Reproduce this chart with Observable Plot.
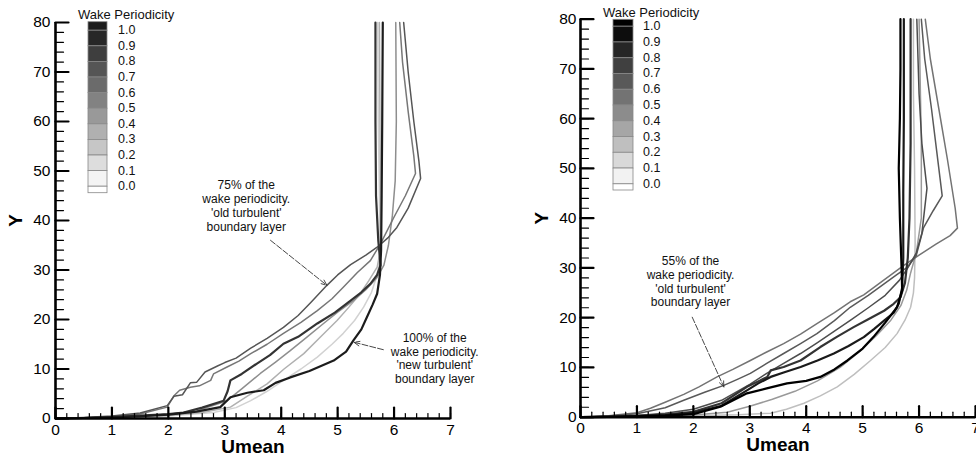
<!DOCTYPE html>
<html><head><meta charset="utf-8">
<script src="https://cdn.jsdelivr.net/npm/d3@7"></script>
<script src="https://cdn.jsdelivr.net/npm/@observablehq/plot@0.6"></script>
<style>
body{margin:0;background:#fff;font-family:"Liberation Sans",Arial,Helvetica,sans-serif;}
#wrap{position:relative;width:976px;height:458px;overflow:hidden;background:#fff;}
.panel{position:absolute;top:0;width:488px;height:458px;}
.panel svg{position:absolute;left:0;top:0;}
</style></head><body><div id="wrap"></div>
<script>
// ---------- tick values ----------
const xTickValues = [0, 1, 2, 3, 4, 5, 6, 7];
const yTickValues = [0, 10, 20, 30, 40, 50, 60, 70, 80];
const legendLevels = [1.0, 0.9, 0.8, 0.7, 0.6, 0.5, 0.4, 0.3, 0.2, 0.1, 0.0];
const legendLabels = ["1.0","0.9","0.8","0.7","0.6","0.5","0.4","0.3","0.2","0.1","0.0"];

// ---------- left panel profiles [Umean, Y] ----------
const leftP100 = [[0,0],[0.5,0.1],[1,0.25],[1.5,0.45],[2,0.8],[2.5,1.4],[2.92,2.3],[3.1,4.3],[3.4,5.2],[3.69,5.7],[3.9,7.2],[4.16,8.3],[4.5,9.6],[4.93,11.7],[5.15,13.5],[5.28,15.8],[5.42,18],[5.52,20.5],[5.62,23],[5.7,25.2],[5.75,29],[5.77,34],[5.78,45],[5.79,60],[5.8,80]];
const leftP90 = [[0,0],[0.5,0.1],[1,0.3],[1.5,0.6],[2,0.9],[2.27,1.2],[2.6,2.2],[2.98,3.6],[3.05,5.5],[3.1,7.7],[3.3,9],[3.57,11.1],[3.8,12.8],[4.04,15.1],[4.3,16.5],[4.64,19.2],[4.95,21.4],[5.23,23.8],[5.42,25.5],[5.58,27.2],[5.7,29],[5.76,31],[5.72,36],[5.68,45],[5.67,60],[5.67,80]];
const leftP75 = [[0,0],[0.5,0.2],[1,0.5],[1.5,1.1],[1.98,2.6],[2.1,4.5],[2.25,4.8],[2.39,7.2],[2.5,7.3],[2.65,9.4],[2.87,10.6],[3.0,11.3],[3.2,12.2],[3.46,14.2],[3.75,16.2],[4.04,18.4],[4.3,20.8],[4.52,23.4],[4.81,26.9],[5.0,29],[5.23,31.1],[5.5,33],[5.7,34.6],[5.9,36.6],[6.05,38.6],[6.25,42.5],[6.47,48.5],[6.44,52],[6.35,60],[6.25,70],[6.17,80]];
const leftP60 = [[0,0],[0.5,0.15],[1,0.4],[1.5,0.9],[1.98,2.3],[2.1,4.6],[2.2,5.7],[2.39,6.3],[2.55,6.6],[2.75,7.7],[2.8,9.0],[3.04,10.4],[3.25,11.6],[3.46,13.1],[3.75,15],[4.04,17.2],[4.35,19.4],[4.64,21.8],[4.9,24.2],[5.1,26.5],[5.35,29.5],[5.58,31.9],[5.76,35.3],[5.88,38],[6.0,40.7],[6.2,45],[6.38,49.5],[6.35,53],[6.25,62],[6.15,72],[6.1,80]];
const leftP50 = [[0,0],[0.5,0.1],[1,0.3],[1.5,0.5],[2,0.8],[2.5,1.5],[3.04,3.6],[3.3,6],[3.63,9.1],[3.9,11.4],[4.16,13.7],[4.45,16.4],[4.75,19.2],[5.0,21.5],[5.28,23.8],[5.5,26],[5.7,28.5],[5.82,31],[5.9,35],[5.97,41],[6.02,48],[6.04,60],[6.03,80]];
const leftP35 = [[0,0],[1,0.2],[2,0.6],[2.6,1.2],[3.1,2.3],[3.4,4.5],[3.75,7],[4.05,10],[4.4,13.1],[4.7,16.5],[4.99,19.8],[5.2,22.5],[5.4,25.2],[5.55,27.8],[5.7,30.6],[5.76,34],[5.76,45],[5.75,60],[5.74,80]];
const leftP20 = [[0,0],[1,0.15],[2,0.5],[2.8,1.2],[3.2,2.2],[3.46,3.6],[3.75,5.5],[4.04,7.7],[4.35,10],[4.64,12.4],[4.9,15],[5.1,17.2],[5.3,19.8],[5.46,22.5],[5.6,25.5],[5.7,29],[5.75,33],[5.74,45],[5.72,60],[5.71,80]];

// ---------- right panel profiles [Umean, Y] ----------
const rightP100 = [[0,0],[0.5,0.05],[1,0.15],[1.5,0.3],[2,0.6],[2.48,2.1],[2.95,4.8],[3.3,5.8],[3.66,6.8],[4.0,7.3],[4.25,8.1],[4.5,9.6],[4.73,11.4],[5.0,13.8],[5.19,16.1],[5.4,19],[5.61,22.1],[5.7,25.5],[5.69,30],[5.66,40],[5.64,50],[5.66,60],[5.67,70],[5.67,80]];
const rightP90 = [[0,0],[0.5,0.05],[1,0.2],[1.5,0.4],[2,0.9],[2.5,2.3],[2.95,5.4],[3.15,6.8],[3.37,8.1],[3.6,9],[3.9,10.1],[4.2,11.4],[4.49,12.8],[4.75,14.3],[5.02,16.1],[5.2,17.7],[5.38,19.4],[5.55,21],[5.64,22.8],[5.7,26],[5.72,32],[5.72,45],[5.73,60],[5.73,80]];
const rightP80 = [[0,0],[0.5,0.1],[1,0.25],[1.5,0.5],[2,1.1],[2.5,2.8],[2.95,6.1],[3.15,7.2],[3.31,8.1],[3.37,9.4],[3.6,10.1],[3.9,11.4],[4.25,14.1],[4.55,16.2],[4.84,18.1],[5.1,19.7],[5.38,21.4],[5.55,22.8],[5.67,24.1],[5.75,27],[5.8,32],[5.83,40],[5.85,55],[5.85,80]];
const rightP70 = [[0,0],[0.5,0.1],[1,0.35],[1.5,0.8],[2,1.6],[2.5,3.4],[3.0,6.6],[3.3,8.8],[3.6,10.8],[3.9,12.8],[4.2,15],[4.5,17.3],[4.8,19.6],[5.1,22],[5.4,24.5],[5.65,27.5],[5.8,30],[5.95,33],[6.05,37],[6.14,46],[6.05,55],[6.0,65],[5.96,80]];
const rightP65 = [[0,0],[0.5,0.25],[1,0.7],[1.5,1.9],[1.83,3.4],[2.2,5],[2.54,6.4],[2.8,7.7],[3.01,8.8],[3.3,10.8],[3.6,12.8],[3.9,14.8],[4.19,16.8],[4.5,19.4],[4.78,22.1],[5.1,24.5],[5.38,26.8],[5.6,28.6],[5.79,30.1],[5.95,32.5],[6.08,38.1],[6.25,41.5],[6.41,44.5],[6.35,50],[6.22,62],[6.1,72],[6.04,80]];
const rightP55 = [[0,0],[0.5,0.3],[1,0.9],[1.24,1.8],[1.5,3],[1.83,4.6],[2.1,6.1],[2.42,8.1],[2.7,9.6],[3.01,11.4],[3.3,13.1],[3.6,14.8],[3.9,16.7],[4.19,18.8],[4.5,21],[4.78,23.2],[5.02,24.6],[5.38,27.6],[5.73,30.5],[6.0,32.6],[6.3,34.8],[6.55,36.5],[6.68,38],[6.64,42],[6.5,52],[6.35,62],[6.2,72],[6.11,80]];
const rightP40 = [[0,0],[1,0.1],[2,0.45],[2.6,1],[3,2.2],[3.4,3.6],[3.8,5.2],[4.2,7.3],[4.6,10],[4.95,13.2],[5.25,16.5],[5.5,19.5],[5.68,22.5],[5.78,25.5],[5.85,29],[5.95,33],[6.04,40],[6.04,55],[6.0,80]];
const rightP25 = [[0,0],[1,0.1],[2,0.3],[2.8,0.5],[3.37,0.8],[3.65,1.6],[3.96,2.8],[4.25,4.3],[4.55,6.1],[4.85,8.6],[5.14,11.4],[5.4,14],[5.61,16.8],[5.75,19.5],[5.85,22.1],[5.9,25],[5.92,28],[5.93,35],[5.92,50],[5.9,65],[5.9,80]];

const leftSeries = [
  {p: 0.2, pts: leftP20}, {p: 0.35, pts: leftP35}, {p: 0.5, pts: leftP50},
  {p: 0.6, pts: leftP60}, {p: 0.75, pts: leftP75}, {p: 0.9, pts: leftP90}, {p: 1.0, pts: leftP100}
];
const rightSeries = [
  {p: 0.25, pts: rightP25}, {p: 0.4, pts: rightP40}, {p: 0.55, pts: rightP55},
  {p: 0.65, pts: rightP65}, {p: 0.7, pts: rightP70}, {p: 0.8, pts: rightP80},
  {p: 0.9, pts: rightP90}, {p: 1.0, pts: rightP100}
];

// ---------- annotations ----------
const leftNotes = [
  {x: 3.38, y: 43.0, text: "75% of the\nwake periodicity.\n'old turbulent'\nboundary layer"},
  {x: 6.72, y: 12.2, text: "100% of the\nwake periodicity.\n'new turbulent'\nboundary layer"}
];
const leftArrows = [
  {x1: 3.81, y1: 36.0, x2: 4.81, y2: 26.9},
  {x1: 5.81, y1: 13.9, x2: 5.29, y2: 15.4}
];
const rightNotes = [
  {x: 1.95, y: 27.3, text: "55% of the\nwake periodicity.\n'old turbulent'\nboundary layer"}
];
const rightArrows = [
  {x1: 1.98, y1: 20.1, x2: 2.54, y2: 6.1}
];

const xMinor = d3.range(0, 7.001, 0.2);
const yMinor = d3.range(0, 80.001, 2);
const FONT = "Liberation Sans, Arial, Helvetica, sans-serif";
// tick shape: a straight segment from the anchor in the vector's direction
const tickShape = {draw(context, l) { context.moveTo(0, 0); context.lineTo(0, -l); }};

function makePanel(cfg) {
  return Plot.plot({
    width: 488, height: 458,
    marginLeft: cfg.ml, marginRight: cfg.mr, marginTop: cfg.mt, marginBottom: cfg.mb,
    x: {domain: [0, 7]},
    y: {domain: [0, 80]},
    color: {type: "linear", domain: [0, 1], range: cfg.range},
    style: {fontFamily: FONT, fontSize: "15.5px", color: "#000", background: "transparent", overflow: "visible"},
    marks: [
      ...cfg.series.map(s => Plot.line(s.pts, {
        stroke: () => s.p,
        strokeWidth: s.p >= 0.8 ? 2.2 : 1.5,
        strokeLinejoin: "round"
      })),
      Plot.ruleY([0], {strokeWidth: 2.6}),
      Plot.ruleX([0], {strokeWidth: 2.6}),
      Plot.axisX(xTickValues, {anchor: "bottom", tickSize: 0, tickPadding: 5, label: null, fontSize: 15.5}),
      Plot.axisY(yTickValues, {anchor: "left", tickSize: 0, tickPadding: cfg.pad, label: null, fontSize: 15.5}),
      // inward ticks
      Plot.vector(xTickValues, {x: d => d, y: () => 0, length: 11, rotate: 0, anchor: "start", shape: tickShape, stroke: "black", strokeWidth: 2.2}),
      Plot.vector(xMinor, {x: d => d, y: () => 0, length: 5, rotate: 0, anchor: "start", shape: tickShape, stroke: "black", strokeWidth: 1.2}),
      Plot.vector(yTickValues, {x: () => 0, y: d => d, length: 13, rotate: 90, anchor: "start", shape: tickShape, stroke: "black", strokeWidth: 2.2}),
      Plot.vector(yMinor, {x: () => 0, y: d => d, length: 8, rotate: 90, anchor: "start", shape: tickShape, stroke: "black", strokeWidth: 1.2}),
      Plot.text(["Umean"], {frameAnchor: "bottom", lineAnchor: "middle", dy: 28, fontSize: 19, fontWeight: "bold"}),
      Plot.text(["Y"], {frameAnchor: "left", textAnchor: "middle", lineAnchor: "middle", dx: cfg.ydx, rotate: -90, fontSize: 19, fontWeight: "bold"}),
      Plot.arrow(cfg.arrows, {x1: "x1", y1: "y1", x2: "x2", y2: "y2", stroke: "#333", strokeWidth: 0.9, headLength: 10, headAngle: 45, strokeDasharray: "6,2"}),
      Plot.text(cfg.notes, {x: "x", y: "y", text: "text", fontSize: 12, lineHeight: 1.15, fill: "#111"})
    ]
  });
}

function drawLegend(parent, L, colorFn) {
  const svg = d3.select(parent).append("svg")
    .attr("width", 488).attr("height", 210)
    .style("font-family", FONT).style("overflow", "visible");
  svg.append("text").attr("x", L.titleX).attr("y", L.titleY)
    .attr("dominant-baseline", "central").attr("font-size", 13).attr("fill", "#111")
    .text("Wake Periodicity");
  const edges = [L.top, ...legendLevels.map((_, i) => L.first + i * L.step), L.bottom];
  for (let k = 0; k < edges.length - 1; k++) {
    let v;
    if (k === 0) v = legendLevels[0];
    else if (k === edges.length - 2) v = legendLevels[legendLevels.length - 1];
    else v = (legendLevels[k - 1] + legendLevels[k]) / 2;
    svg.append("rect").attr("x", L.boxX).attr("y", edges[k])
      .attr("width", L.boxW).attr("height", edges[k + 1] - edges[k])
      .attr("fill", colorFn(v)).attr("stroke", "#888").attr("stroke-width", 0.8);
  }
  legendLabels.forEach((t, i) => {
    svg.append("text").attr("x", L.labelX).attr("y", L.first + i * L.step)
      .attr("dominant-baseline", "central").attr("font-size", 12.5).attr("fill", "#111").text(t);
  });
}

const wrap = document.getElementById("wrap");
const panels = [
  {left: 0, ml: 55, mr: 38, mt: 22, mb: 40, pad: 5, ydx: -40, range: ["#ffffff", "#1c1c1c"],
   series: leftSeries, notes: leftNotes, arrows: leftArrows,
   legend: {titleX: 78, titleY: 14, top: 21.7, first: 30.2, step: 15.6, bottom: 192.7, boxX: 88, boxW: 19, labelX: 118}},
  {left: 488, ml: 92, mr: 1, mt: 18.7, mb: 41.3, pad: 4, ydx: -39, range: ["#ffffff", "#000000"],
   series: rightSeries, notes: rightNotes, arrows: rightArrows,
   legend: {titleX: 115, titleY: 12, top: 19.3, first: 26.2, step: 15.76, bottom: 190, boxX: 125, boxW: 20, labelX: 155}}
];
panels.forEach(cfg => {
  const div = document.createElement("div");
  div.className = "panel";
  div.style.left = cfg.left + "px";
  wrap.appendChild(div);
  const chart = makePanel(cfg);
  div.appendChild(chart);
  const colorFn = d3.scaleLinear().domain([0, 1]).range(cfg.range);
  drawLegend(div, cfg.legend, colorFn);
});
</script></body></html>
